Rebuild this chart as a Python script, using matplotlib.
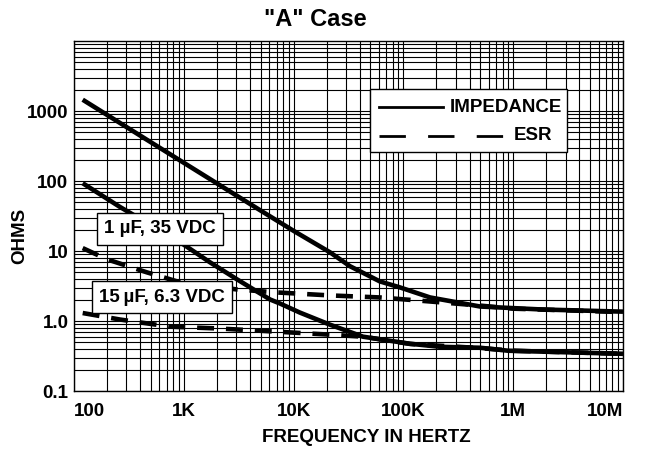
import matplotlib
matplotlib.use("Agg")
import matplotlib.pyplot as plt
from matplotlib.lines import Line2D
from matplotlib.patches import Rectangle
from matplotlib.ticker import FixedLocator, NullFormatter, LogLocator

plt.rcParams['font.family'] = ['Liberation Sans', 'DejaVu Sans']
plt.rcParams['font.weight'] = 'bold'

# values
freq_z_1uf = [120, 1000, 5000, 10000, 21400, 32700, 61000, 93000, 175000, 500000, 1830000, 10000000]
imp_1uf = [1450, 182, 37.9, 19.4, 9.6, 6.05, 3.68, 3.02, 2.17, 1.61, 1.46, 1.36]
freq_esr_1uf = [120, 200, 460, 870, 3000, 7000, 21400, 61000, 175000, 500000, 1000000, 10000000]
esr_1uf = [11.0, 7.6, 4.96, 3.68, 2.83, 2.56, 2.32, 2.17, 1.90, 1.66, 1.50, 1.34]

freq_z_15uf = [120, 262, 922, 1730, 3050, 6100, 7500, 11400, 21400, 42800, 115000, 215000, 500000, 900000, 10000000]
imp_15uf = [93, 42.6, 13.4, 6.9, 3.94, 2.03, 1.78, 1.32, 0.887, 0.597, 0.473, 0.428, 0.415, 0.376, 0.34]
freq_esr_15uf = [120, 262, 750, 2140, 7500, 21400, 42800, 115000, 500000, 1000000, 10000000]
esr_15uf = [1.3, 1.05, 0.83, 0.78, 0.70, 0.638, 0.597, 0.47, 0.41, 0.376, 0.34]

x_ticks = [1e2, 1e3, 1e4, 1e5, 1e6, 1e7]
x_labels = ['100', '1K', '10K', '100K', '1M', '10M']
y_ticks = [0.1, 1, 10, 100, 1000]
y_labels = ['0.1', '1.0', '10', '100', '1000']

W, H = 645, 450
FS = 13.5


def fx(x):
    return x / W


def fy(y):
    return 1 - y / H


fig = plt.figure(figsize=(W / 100, H / 100), dpi=100)
ax = fig.add_axes([fx(74), fy(391), fx(623) - fx(74), fy(41) - fy(391)])
ax.set_xscale('log')
ax.set_yscale('log')
ax.set_xlim(1e2, 1e7)
ax.set_ylim(0.1, 1e4)

# dense log grid, all black
ax.xaxis.set_major_locator(FixedLocator(x_ticks))
ax.yaxis.set_major_locator(FixedLocator(y_ticks))
ax.xaxis.set_minor_locator(LogLocator(base=10, subs=range(2, 10), numticks=20))
ax.yaxis.set_minor_locator(LogLocator(base=10, subs=range(2, 10), numticks=20))
ax.xaxis.set_minor_formatter(NullFormatter())
ax.yaxis.set_minor_formatter(NullFormatter())
ax.grid(True, which='both', color='black', linewidth=0.8)
ax.tick_params(which='both', length=0)
ax.set_axisbelow(True)
for s in ax.spines.values():
    s.set_linewidth(1.0)

ax.set_xticklabels(x_labels, fontsize=FS, fontweight='bold')
ax.set_yticklabels(y_labels, fontsize=FS, fontweight='bold')
ax.tick_params(axis='x', pad=9)
ax.tick_params(axis='y', pad=4)
xt = ax.get_xticklabels()
xt[0].set_horizontalalignment('left')
xt[-1].set_horizontalalignment('right')

lw = 3.3
dash = (3.7, 2.6)
ax.plot(freq_z_1uf, imp_1uf, color='black', lw=lw, solid_capstyle='butt')
ax.plot(freq_esr_1uf, esr_1uf, color='black', lw=lw, dashes=dash)
ax.plot(freq_z_15uf, imp_15uf, color='black', lw=lw, solid_capstyle='butt')
ax.plot(freq_esr_15uf, esr_15uf, color='black', lw=lw, dashes=dash)

fig.text(fx(315), fy(20), '"A" Case', fontsize=17, fontweight='bold', ha='center', va='center')
fig.text(fx(366), fy(437), 'FREQUENCY IN HERTZ', fontsize=FS, fontweight='bold', ha='center', va='center')
fig.text(fx(20), fy(236), 'OHMS', fontsize=FS, fontweight='bold', rotation=90, ha='center', va='center')

# part labels
box = dict(boxstyle='square,pad=0.4', facecolor='white', edgecolor='black', linewidth=1.0)
fig.text(fx(160), fy(229), '1 µF, 35 VDC', fontsize=FS, fontweight='bold',
         ha='center', va='center', bbox=box, zorder=5)
fig.text(fx(162), fy(297), '15\u2009µF, 6.3 VDC', fontsize=FS, fontweight='bold',
         ha='center', va='center', bbox=box, zorder=5)

# legend drawn by hand
fig.add_artist(Rectangle((fx(370), fy(152)), fx(567) - fx(370), fy(89) - fy(152),
                         transform=fig.transFigure, facecolor='white', edgecolor='black',
                         linewidth=1.0, zorder=5))
fig.add_artist(Line2D([fx(379), fx(443)], [fy(107), fy(107)], transform=fig.transFigure,
                      color='black', lw=2.0, zorder=6))
fig.add_artist(Line2D([fx(379), fx(505)], [fy(136), fy(136)], transform=fig.transFigure,
                      color='black', lw=2.0, dashes=(9.5, 8.0), zorder=6))
fig.text(fx(562), fy(107), 'IMPEDANCE', fontsize=FS, fontweight='bold', ha='right', va='center', zorder=7)
fig.text(fx(552), fy(136), 'ESR', fontsize=FS, fontweight='bold', ha='right', va='center', zorder=7)

fig.savefig('out.png', dpi=100)
